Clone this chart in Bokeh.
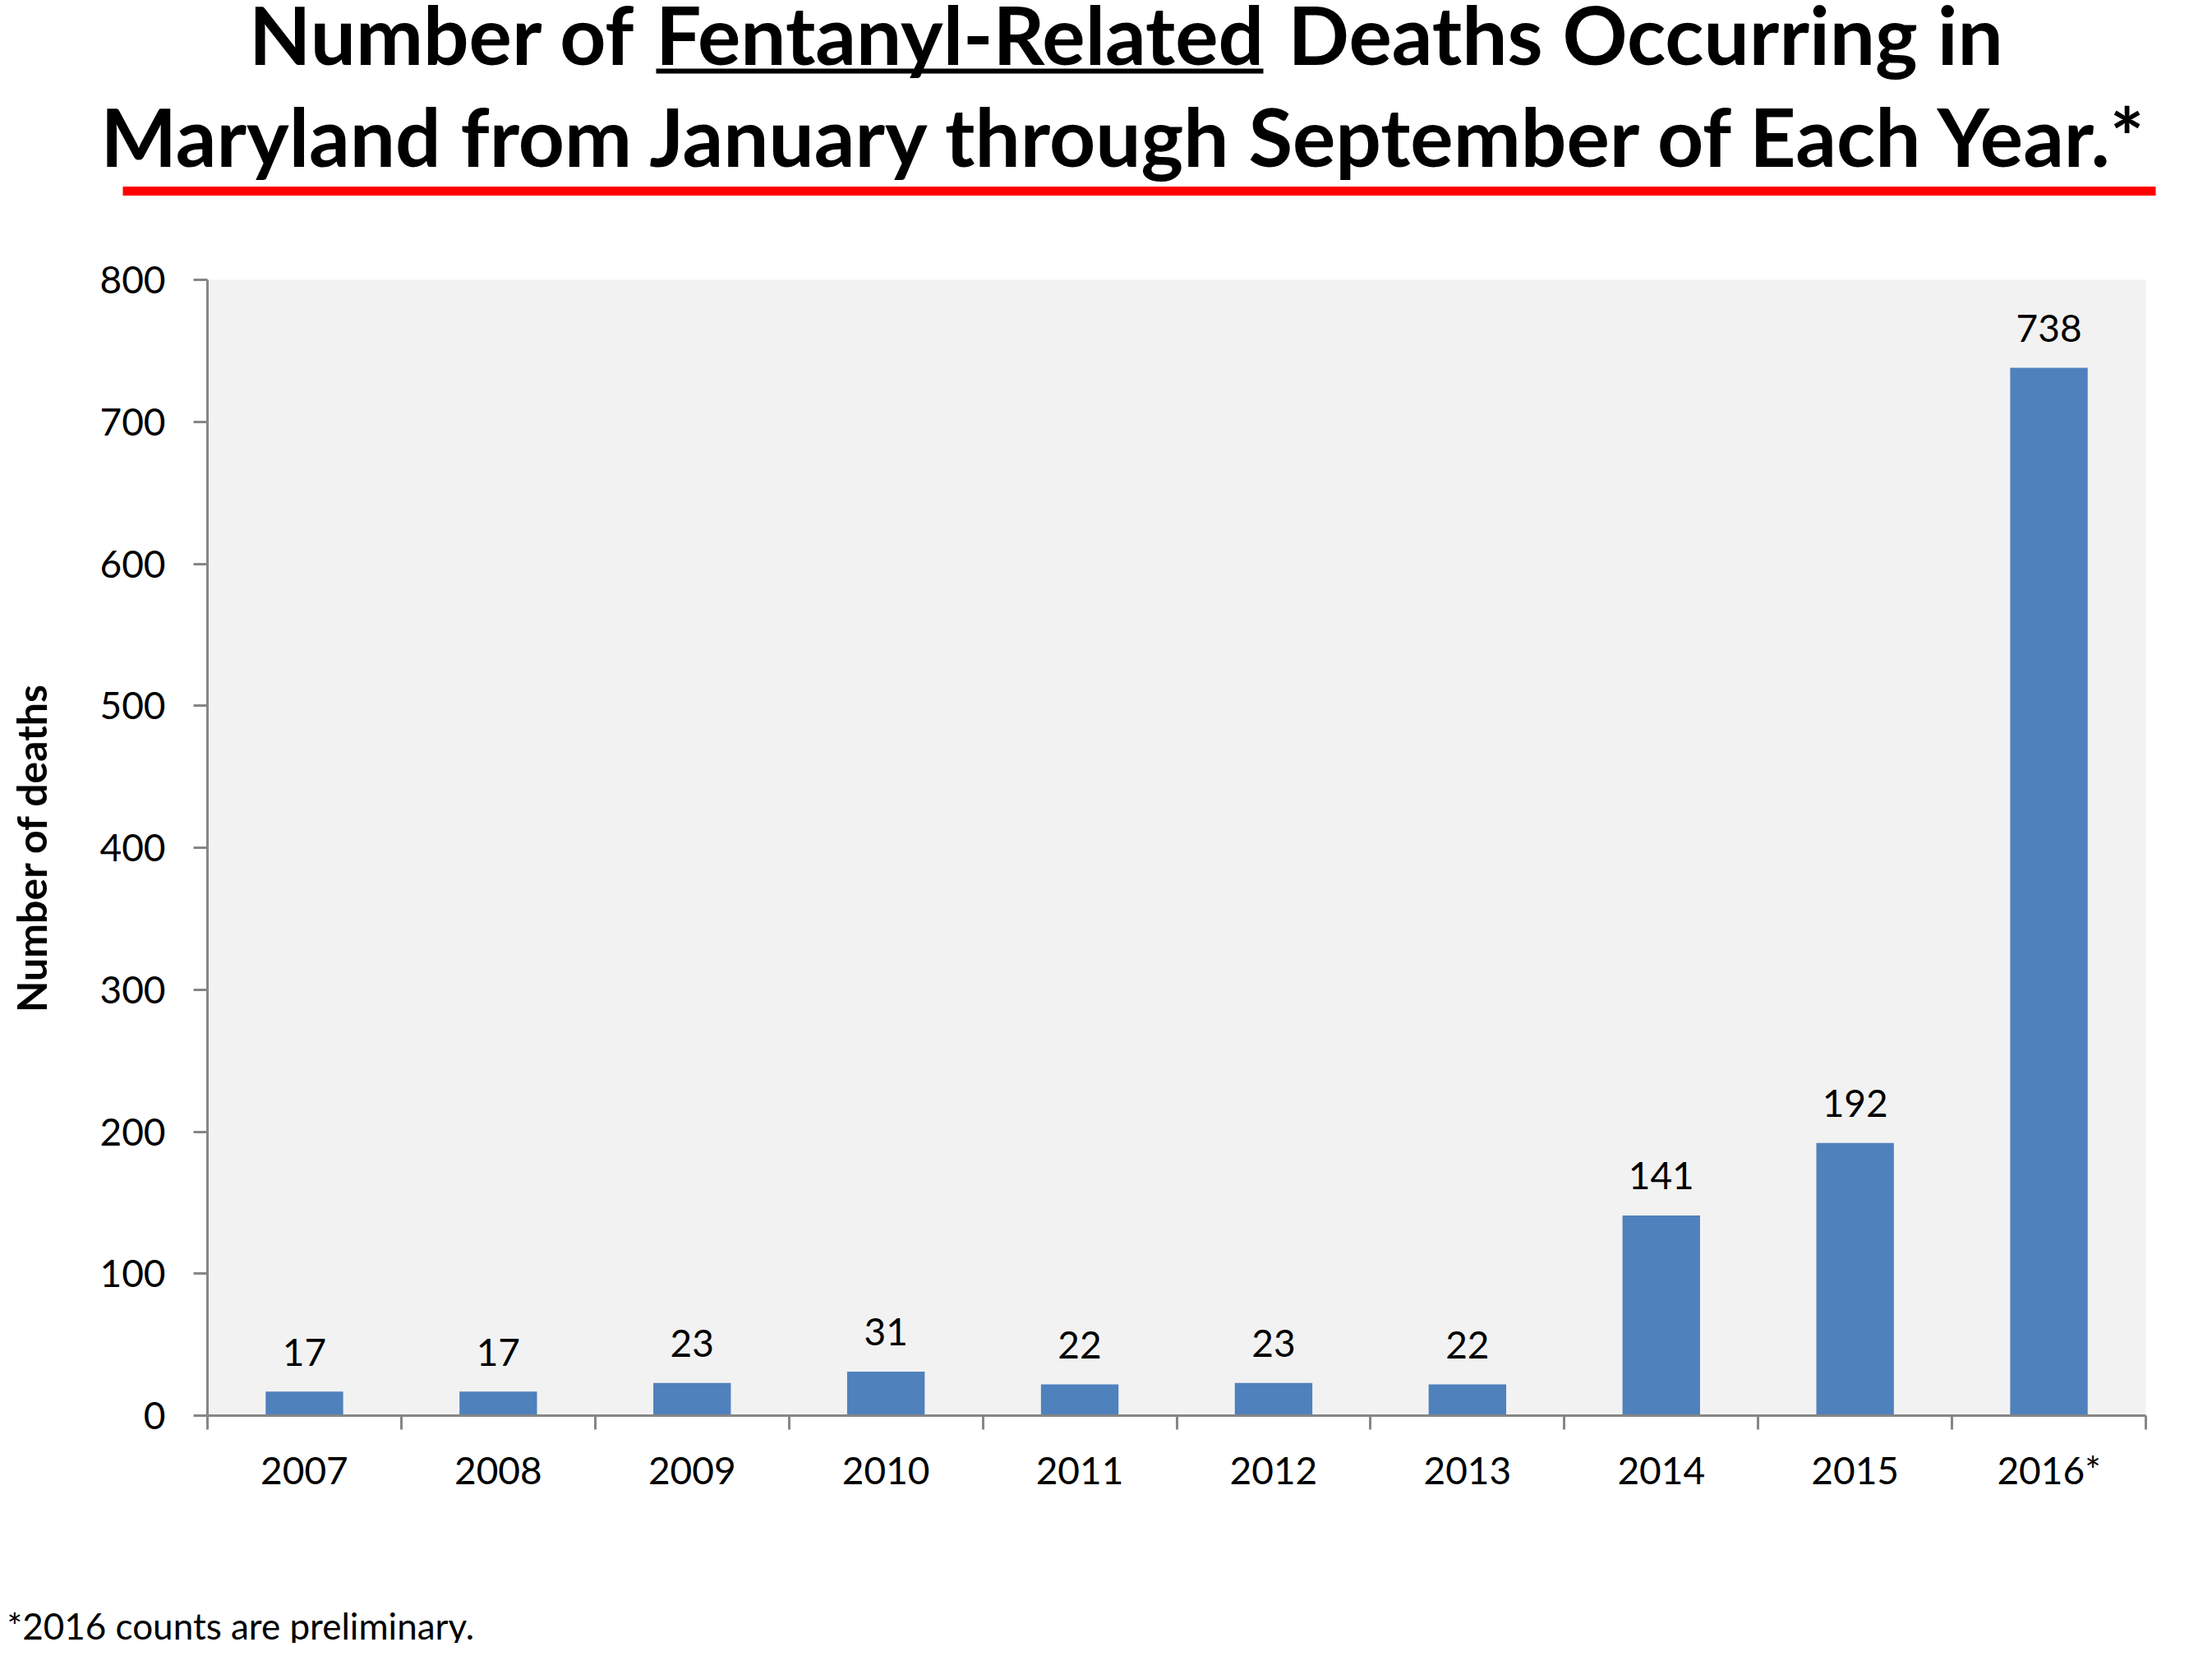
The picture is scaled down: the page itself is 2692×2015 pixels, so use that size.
from bokeh.plotting import figure
from bokeh.models import Range1d, FixedTicker, ColumnDataSource
from bokeh.layouts import column
from bokeh.embed import file_html
from bokeh.resources import INLINE
from bokeh.core.properties import value

# ---- data ----
years = ["2007", "2008", "2009", "2010", "2011", "2012", "2013", "2014", "2015", "2016*"]
deaths = [17, 17, 23, 31, 22, 23, 22, 141, 192, 738]
y_ticks = [0, 100, 200, 300, 400, 500, 600, 700, 800]
title_left = "Number of"
title_underlined = "Fentanyl-Related"
title_right = "Deaths Occurring in"
title_line2 = "Maryland from January through September of Each Year.*"
y_label = "Number of deaths"
footnote = "*2016 counts are preliminary."

FONT = value("Lato")
FONT_NAME = "Lato"
W = 2676
TH = 258
MH = 1614
FH = 1999 - TH - MH

# ---- title figure (canvas-pixel coordinates) ----
t = figure(width=W, height=TH, x_range=Range1d(0, W), y_range=Range1d(TH, 0),
           output_backend="svg", toolbar_location=None, min_border=0)
t.frame_align = False
t.axis.visible = False
t.grid.visible = False
t.outline_line_color = None
t.background_fill_color = "white"

s1 = "98px"
s2 = "98px"
t.text(x=[773], y=[40], text=[title_left], text_align="right", text_baseline="alphabetic",
       text_font=FONT, text_font_style="bold", text_font_size=s1, text_color="black")
t.text(x=[1167.5], y=[40], text=[title_underlined], text_align="center", text_baseline="alphabetic",
       text_font=FONT, text_font_style="bold", text_font_size=s1, text_color="black")
t.text(x=[1567], y=[40], text=[title_right], text_align="left", text_baseline="alphabetic",
       text_font=FONT, text_font_style="bold", text_font_size=s1, text_color="black")
t.segment(x0=[798], y0=[86], x1=[1537], y1=[86], line_color="black", line_width=6)
t.text(x=[1372], y=[164], text=[title_line2], text_align="center", text_baseline="alphabetic",
       text_font=FONT, text_font_style="bold", text_font_size=s2, text_color="black")
t.segment(x0=[149], y0=[232], x1=[2623], y1=[232], line_color="#FF0000", line_width=11)

# ---- main chart ----
n = len(years)
centers = [i + 0.5 for i in range(n)]
bounds = list(range(n + 1))
src = ColumnDataSource(dict(x=centers, top=deaths, lbl=[str(v) for v in deaths]))

p = figure(width=W, height=MH, x_range=Range1d(0, n), y_range=Range1d(0, 800),
           output_backend="svg", toolbar_location=None,
           min_border_left=252, min_border_right=W - 2611, min_border_top=340 - TH,
           min_border_bottom=MH - (340 - TH) - 1382)
p.frame_align = False
p.background_fill_color = "#F2F2F2"
p.border_fill_color = "white"
p.outline_line_color = None
p.grid.visible = False

p.vbar(x="x", top="top", bottom=0, width=0.4, source=src,
       fill_color="#4F81BD", line_color=None)
p.text(x="x", y="top", text="lbl", source=src, y_offset=-48,
       text_align="center", text_baseline="alphabetic",
       text_font=FONT, text_font_size="46px", text_color="black")

ax_col = "#868686"
xa = p.xaxis[0]
xa.ticker = FixedTicker(ticks=centers, minor_ticks=bounds)
xa.major_label_overrides = {c: y for c, y in zip(centers, years)}
xa.major_tick_out = 0
xa.major_tick_in = 0
xa.minor_tick_out = 17
xa.minor_tick_in = 0
xa.minor_tick_line_color = ax_col
xa.minor_tick_line_width = 3
xa.axis_line_color = ax_col
xa.axis_line_width = 3
xa.major_label_standoff = 21
xa.major_label_text_font = FONT_NAME
xa.major_label_text_font_size = "46px"
xa.major_label_text_color = "black"

ya = p.yaxis[0]
ya.ticker = FixedTicker(ticks=y_ticks)
ya.major_tick_out = 17
ya.major_tick_in = 0
ya.minor_tick_out = 0
ya.minor_tick_in = 0
ya.major_tick_line_color = ax_col
ya.major_tick_line_width = 3
ya.axis_line_color = ax_col
ya.axis_line_width = 3
ya.major_label_standoff = 34
ya.major_label_text_font = FONT_NAME
ya.major_label_text_font_size = "46px"
ya.major_label_text_color = "black"
ya.axis_label = y_label
ya.axis_label_text_font = FONT_NAME
ya.axis_label_text_font_style = "bold"
ya.axis_label_text_font_size = "50px"
ya.axis_label_text_color = "black"
ya.axis_label_standoff = 50

# ---- footnote ----
f = figure(width=W, height=FH, x_range=Range1d(0, W), y_range=Range1d(FH, 0),
           output_backend="svg", toolbar_location=None, min_border=0)
f.frame_align = False
f.axis.visible = False
f.grid.visible = False
f.outline_line_color = None
f.text(x=[8], y=[105], text=[footnote], text_align="left", text_baseline="alphabetic",
       text_font=FONT, text_font_size="44px", text_color="black")

layout = column(t, p, f, spacing=0)
open("out.html", "w").write(file_html(layout, INLINE))
